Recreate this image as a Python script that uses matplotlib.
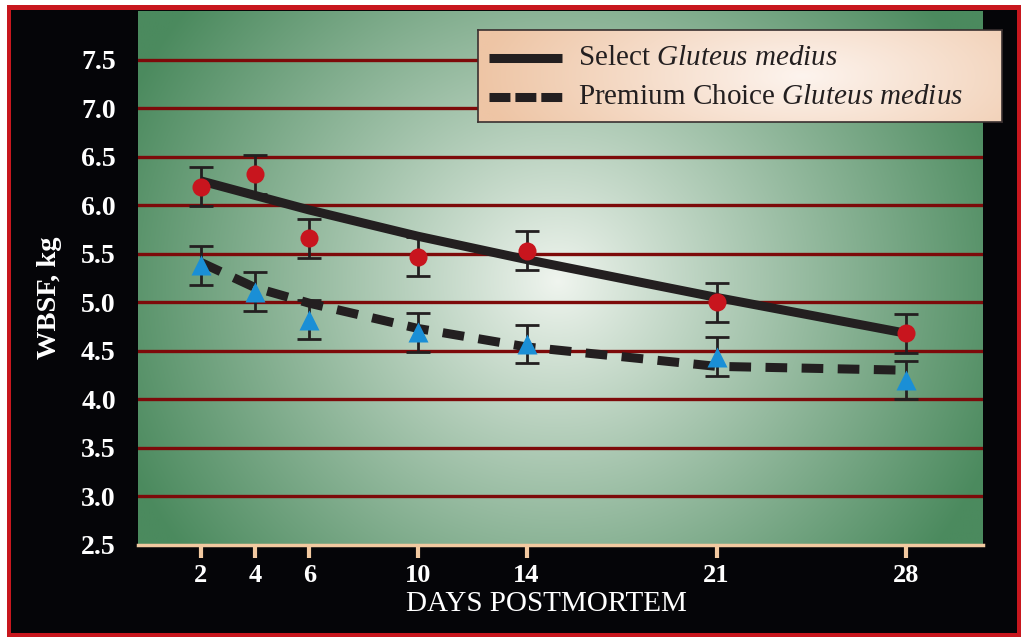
import numpy as np
import matplotlib
matplotlib.use("Agg")
import matplotlib.pyplot as plt
from matplotlib.patches import Rectangle
from matplotlib.lines import Line2D
from matplotlib.colors import to_rgb

# ---- data -------------------------------------------------------------
days = [2, 4, 6, 10, 14, 21, 28]
select_mean = [6.19, 6.32, 5.66, 5.47, 5.53, 5.00, 4.68]
select_err = [0.20, 0.20, 0.20, 0.20, 0.20, 0.20, 0.20]
premium_mean = [5.38, 5.11, 4.82, 4.69, 4.57, 4.44, 4.20]
premium_err = [0.20, 0.20, 0.20, 0.20, 0.20, 0.20, 0.20]
select_fit = [6.25, 6.10, 5.95, 5.68, 5.44, 5.05, 4.68]
premium_fit = [5.41, 5.15, 4.99, 4.73, 4.54, 4.34, 4.30]
y_ticks = [2.5, 3.0, 3.5, 4.0, 4.5, 5.0, 5.5, 6.0, 6.5, 7.0, 7.5]
y_labels = ["2.5", "3.0", "3.5", "4.0", "4.5", "5.0", "5.5", "6.0", "6.5", "7.0", "7.5"]
series_names = ["Select", "Premium Choice"]
muscle = "Gluteus medius"

plt.rcParams["font.family"] = ["Liberation Serif", "DejaVu Serif"]
plt.rcParams["mathtext.fontset"] = "custom"
plt.rcParams["mathtext.rm"] = "Liberation Serif"
plt.rcParams["mathtext.it"] = "Liberation Serif:italic"

W, H = 1021, 637
fig = plt.figure(figsize=(W / 100, H / 100), dpi=100)
fig.patch.set_facecolor("white")

# red frame with black panel inside (background axes in pixel units)
bg = fig.add_axes([0, 0, 1, 1], zorder=-10)
bg.set_xlim(0, W)
bg.set_ylim(H, 0)
bg.axis("off")
bg.add_patch(Rectangle((7, 5), W - 7, H - 5, facecolor="#c8171e", edgecolor="none"))
bg.add_patch(Rectangle((11, 10), 1017 - 11, 633 - 10, facecolor="#050508", edgecolor="none"))

# plot area in pixel coords: x 138..983, y 11..545 (from top)
XMIN, XMAX = -0.32, 30.82
ax = fig.add_axes([138 / W, (H - 545) / H, (983 - 138) / W, (545 - 11) / H], zorder=1)
ax.set_xlim(XMIN, XMAX)
ax.set_ylim(2.5, 8.0)

# radial green background
ny, nx = 300, 480
yy, xx = np.mgrid[0:ny, 0:nx]
px = (xx + 0.5) / nx * 845
py = (yy + 0.5) / ny * 534
cx, cy = 420, 270
r = np.hypot(px - cx, (py - cy) * 1.05)
t = np.clip(r / 470, 0, 1) ** 0.95
c_in = np.array(to_rgb("#f0f5ef"))
c_out = np.array(to_rgb("#4b8a5e"))
img = c_in[None, None, :] * (1 - t[..., None]) + c_out[None, None, :] * t[..., None]
ax.imshow(img, extent=[XMIN, XMAX, 2.5, 8.0], aspect="auto", zorder=0, origin="upper",
          interpolation="bilinear")

# horizontal grid
for yv in y_ticks[1:]:
    ax.axhline(yv, color="#7d0a0a", lw=2.4, zorder=1)

# fitted trend lines
ax.plot(days, select_fit, color="#231f20", lw=6.5, solid_capstyle="butt", zorder=2)
ax.plot(days, premium_fit, color="#231f20", lw=6.5, linestyle=(0, (2.4, 1.6)),
        dash_capstyle="butt", zorder=2)

# observed means with error bars
ax.errorbar(days, select_mean, yerr=select_err, fmt="none", ecolor="#231f20",
            elinewidth=2.0, capsize=8.5, capthick=2.0, zorder=3)
ax.errorbar(days, premium_mean, yerr=premium_err, fmt="none", ecolor="#231f20",
            elinewidth=2.0, capsize=8.5, capthick=2.0, zorder=3)
ax.plot(days, select_mean, "o", color="#c8151e", ms=13, mec="none", zorder=4)
ax.plot(days, premium_mean, "^", color="#1a8fd6", ms=15, mec="none", zorder=4)

# axes styling
for side in ["left", "top", "right"]:
    ax.spines[side].set_visible(False)
ax.spines["bottom"].set_color("#f2c9a0")
ax.spines["bottom"].set_linewidth(2.5)
ax.spines["bottom"].set_zorder(5)
ax.set_xticks(days)
ax.set_xticklabels([str(d) for d in days])
ax.set_yticks(y_ticks)
ax.set_yticklabels(y_labels)
ax.tick_params(axis="x", colors="#f2c9a0", length=9, width=3, direction="out", pad=5,
               labelcolor="white", labelsize=19)
ax.tick_params(axis="y", length=0, pad=16, labelcolor="white", labelsize=20)
for lab in ax.get_yticklabels():
    lab.set_fontweight("bold")
for lab in ax.get_xticklabels():
    lab.set_fontweight("bold")

# axis titles
fig.text(546 / W, 1 - 604 / H, "DAYS POSTMORTEM", color="white", fontsize=21,
         ha="center", va="center")
fig.text(50 / W, 1 - 298 / H, "WBSF, kg", color="white", fontsize=20.5,
         fontweight="bold", rotation=90, ha="center", va="center")

# legend panel
lx0, lx1, ly0, ly1 = 478, 1002, 30, 122
lax = fig.add_axes([lx0 / W, (H - ly1) / H, (lx1 - lx0) / W, (ly1 - ly0) / H], zorder=5)
lax.set_xlim(0, 1)
lax.set_ylim(0, 1)
gy, gx = np.mgrid[0:100, 0:300]
lr = np.hypot((gx / 299 - 0.62) * 1.0, (gy / 99 - 0.5) * 0.45)
lt = np.clip(lr / 0.62, 0, 1)
l_in = np.array(to_rgb("#fdf4ee"))
l_out = np.array(to_rgb("#eec5a5"))
limg = l_in[None, None, :] * (1 - lt[..., None]) + l_out[None, None, :] * lt[..., None]
lax.imshow(limg, extent=[0, 1, 0, 1], aspect="auto", zorder=0)
lax.set_xticks([])
lax.set_yticks([])
for s in lax.spines.values():
    s.set_color("#3a3030")
    s.set_linewidth(1.2)

def lx(p):
    return (p - lx0) / (lx1 - lx0)

def ly(p):
    return (ly1 - p) / (ly1 - ly0)

lax.add_line(Line2D([lx(489), lx(562)], [ly(58), ly(58)], color="#231f20", lw=6.5,
                    solid_capstyle="butt"))
lax.add_line(Line2D([lx(489), lx(562)], [ly(97), ly(97)], color="#231f20", lw=6.5,
                    linestyle=(0, (2.32, 0.55)), dash_capstyle="butt"))
mus = muscle.replace(" ", r"\ ")
lax.text(lx(578), ly(58), series_names[0] + r" $\mathit{" + mus + "}$", fontsize=21,
         va="center", ha="left", color="#231f20")
lax.text(lx(578), ly(97), series_names[1] + r" $\mathit{" + mus + "}$", fontsize=21,
         va="center", ha="left", color="#231f20")

fig.savefig("out.png", dpi=100, facecolor=fig.get_facecolor())
